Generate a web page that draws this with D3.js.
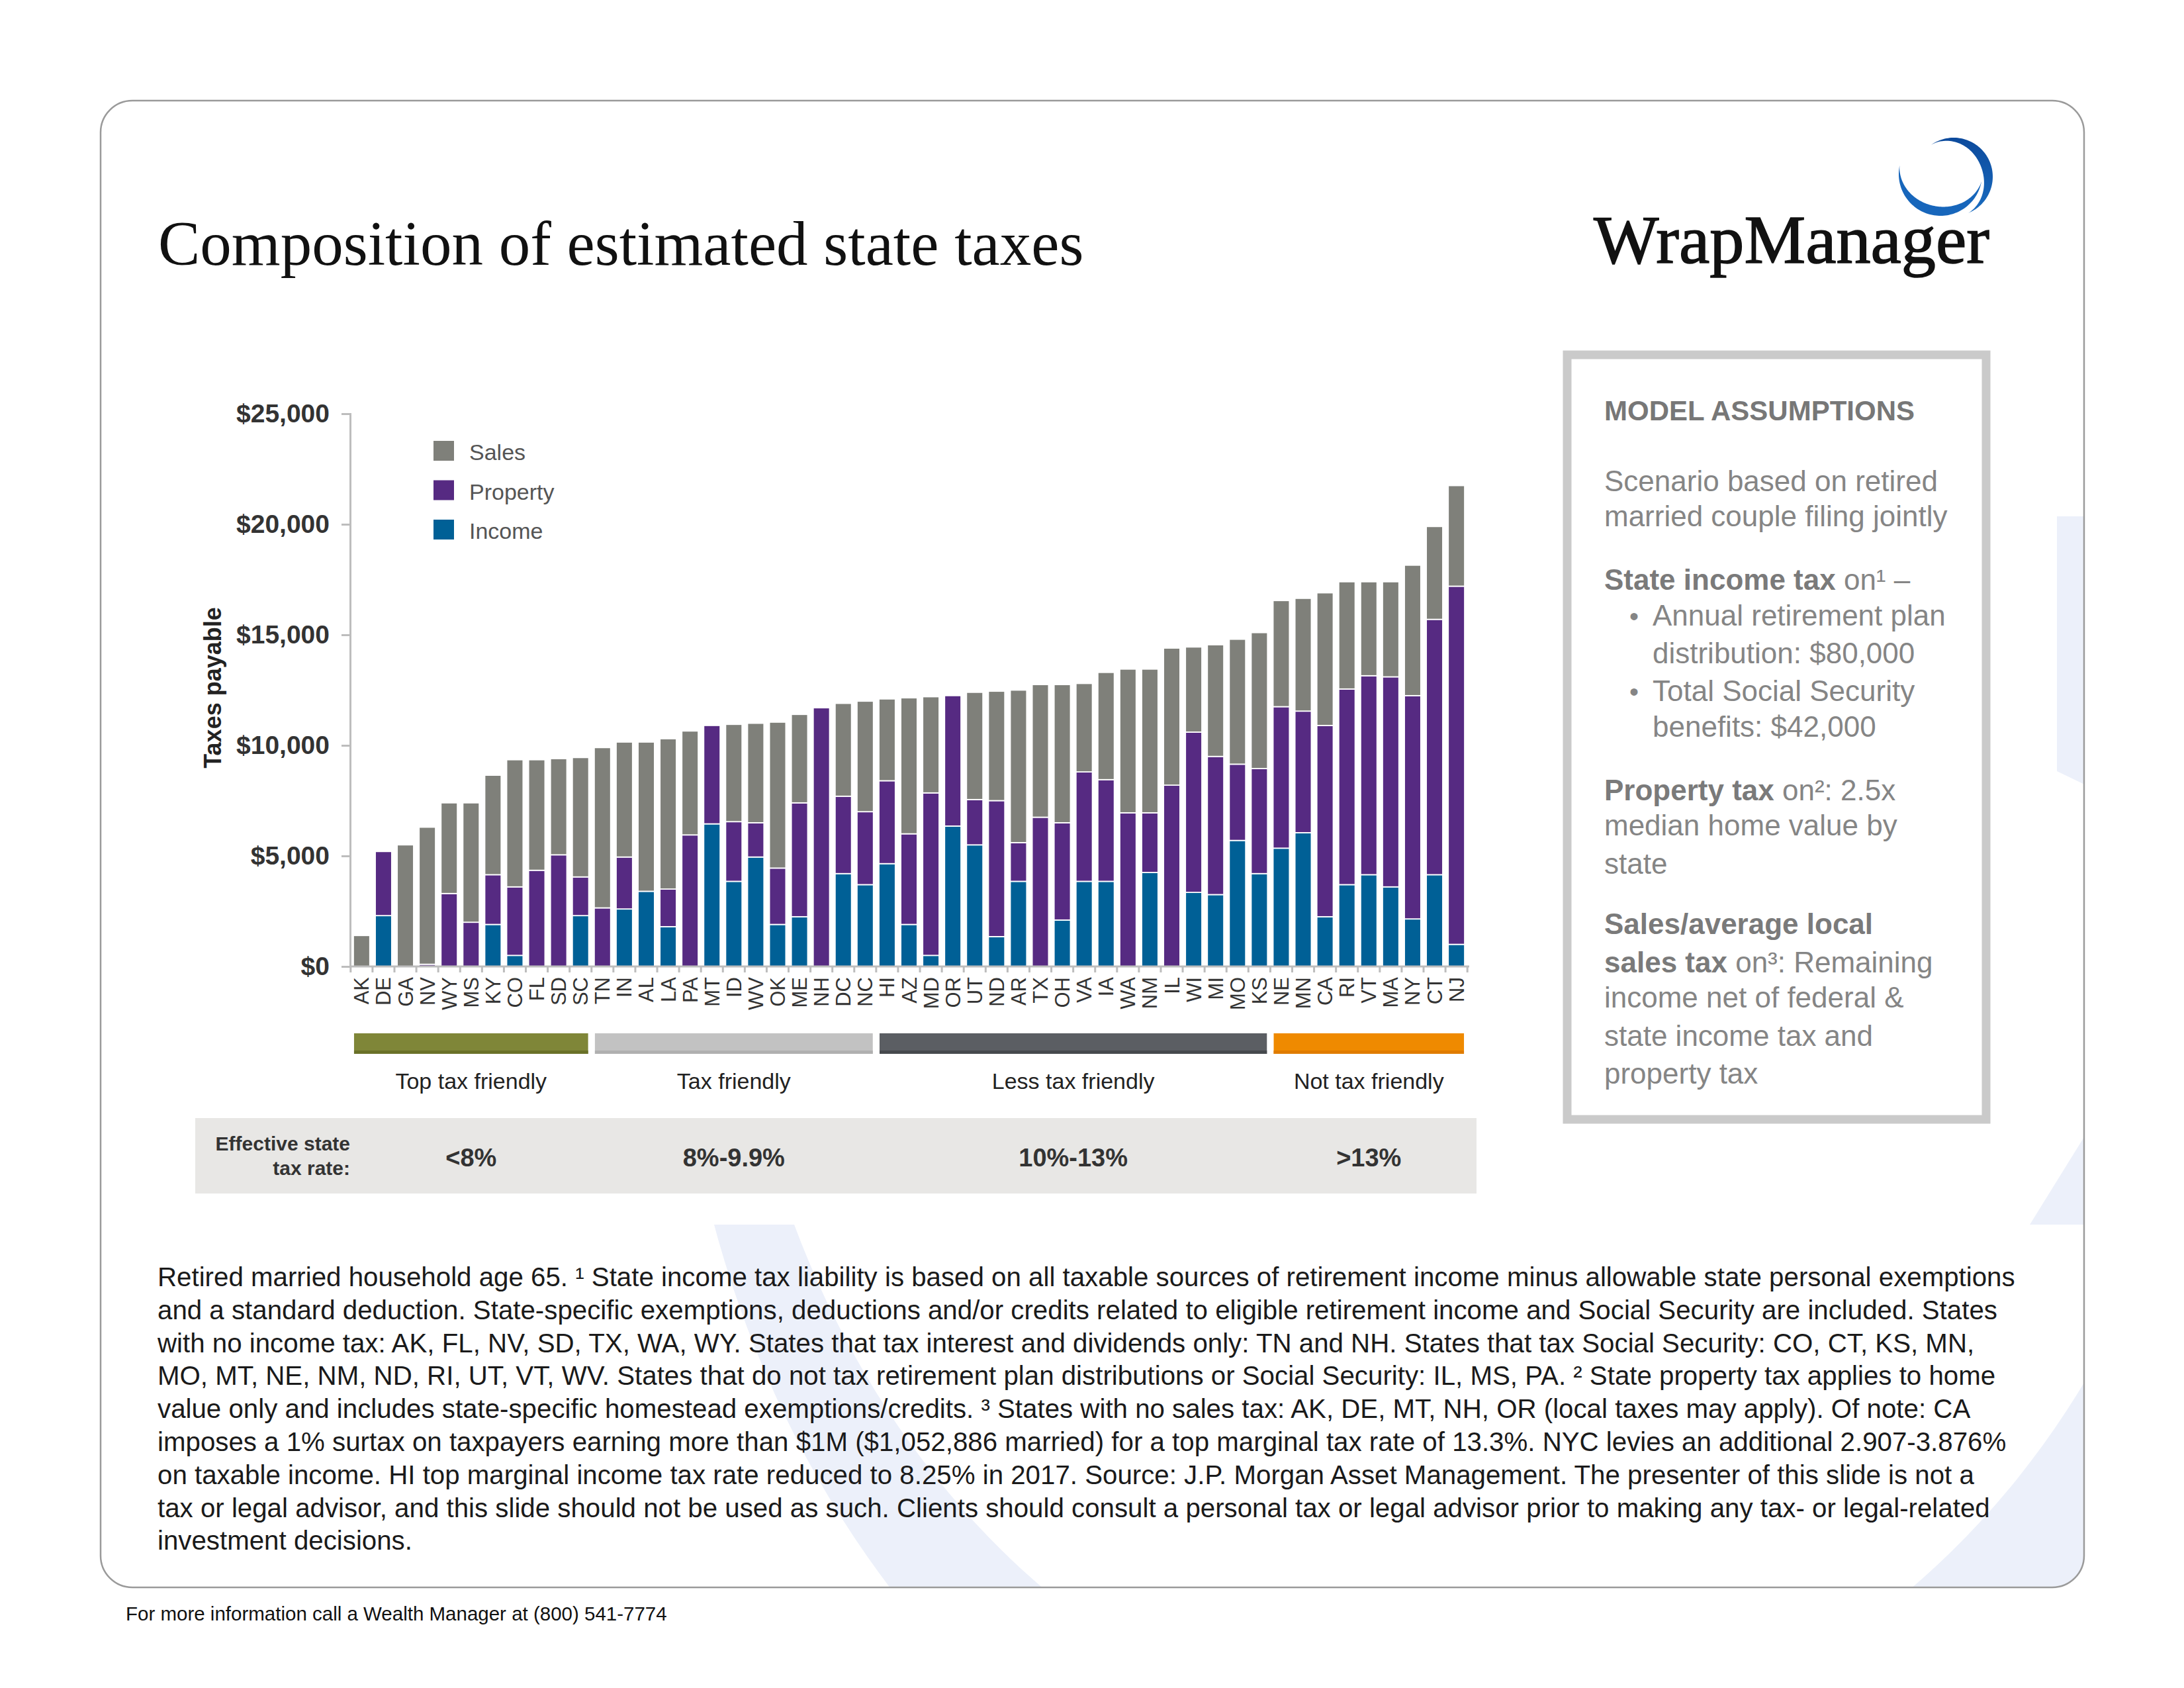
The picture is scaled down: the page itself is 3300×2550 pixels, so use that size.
<!DOCTYPE html>
<html><head><meta charset="utf-8">
<script src="https://cdn.jsdelivr.net/npm/d3@7"></script>
<style>html,body{margin:0;padding:0;background:#fff;} svg{display:block;}</style>
</head><body>
<svg id="c" width="3300" height="2550"></svg>
<script>
// ---------------- DATA ----------------
const states = ["AK","DE","GA","NV","WY","MS","KY","CO","FL","SD","SC","TN","IN","AL","LA","PA","MT","ID","WV","OK","ME","NH","DC","NC","HI","AZ","MD","OR","UT","ND","AR","TX","OH","VA","IA","WA","NM","IL","WI","MI","MO","KS","NE","MN","CA","RI","VT","MA","NY","CT","NJ"];
const income   = [0,2300,0,0,0,0,1900,500,0,0,2300,0,2600,3400,1800,0,6450,3850,4950,1900,2250,0,4200,3700,4650,1900,500,6350,5500,1350,3850,0,2100,3850,3850,0,4250,0,3350,3250,5700,4200,5350,6050,2250,3700,4150,3600,2150,4150,1000];
const property = [0,2900,0,100,3300,2000,2250,3100,4350,5050,1750,2650,2350,0,1700,5950,4450,2700,1550,2550,5150,11700,3500,3300,3750,4100,7350,5900,2050,6150,1750,6750,4400,4950,4600,6950,2700,8200,7250,6250,3450,4750,6400,5500,8650,8850,9000,9500,10100,11550,16200];
const sales    = [1400,0,5500,6200,4100,5400,4500,5750,5000,4350,5400,7250,5200,6750,6800,4700,0,4400,4500,6600,4000,0,4200,5000,3700,6150,4350,0,4850,4950,6900,6000,6250,4000,4850,6500,6500,6200,3850,5050,5650,6150,4800,5100,6000,4850,4250,4300,5900,4200,4550];
const seriesKeys   = ["income","property","sales"];
const legendLabels = ["Sales","Property","Income"];
const legendKeys   = ["sales","property","income"];
const yTicks = [0,5000,10000,15000,20000,25000];

const groupNames = ["Top tax friendly","Tax friendly","Less tax friendly","Not tax friendly"];
const groupFirst = ["AK","TN","HI","NE"];
const groupLast  = ["SC","NC","KS","NJ"];
const groupRates = ["<8%","8%-9.9%","10%-13%",">13%"];

const titleText = "Composition of estimated state taxes";
const logoText = "WrapManager";
const footerText = "For more information call a Wealth Manager at (800) 541-7774";
const footnoteLines = [
 "Retired married household age 65. \u00B9 State income tax liability is based on all taxable sources of retirement income minus allowable state personal exemptions",
 "and a standard deduction. State-specific exemptions, deductions and/or credits related to eligible retirement income and Social Security are included. States",
 "with no income tax: AK, FL, NV, SD, TX, WA, WY. States that tax interest and dividends only: TN and NH. States that tax Social Security: CO, CT, KS, MN,",
 "MO, MT, NE, NM, ND, RI, UT, VT, WV. States that do not tax retirement plan distributions or Social Security: IL, MS, PA. \u00B2 State property tax applies to home",
 "value only and includes state-specific homestead exemptions/credits. \u00B3 States with no sales tax: AK, DE, MT, NH, OR (local taxes may apply). Of note: CA",
 "imposes a 1% surtax on taxpayers earning more than $1M ($1,052,886 married) for a top marginal tax rate of 13.3%. NYC levies an additional 2.907-3.876%",
 "on taxable income. HI top marginal income tax rate reduced to 8.25% in 2017. Source: J.P. Morgan Asset Management. The presenter of this slide is not a",
 "tax or legal advisor, and this slide should not be used as such. Clients should consult a personal tax or legal advisor prior to making any tax- or legal-related",
 "investment decisions."
];
const boxTitle = "MODEL ASSUMPTIONS";
const boxLines = [
 {seg:[["Scenario based on retired",0]]},
 {seg:[["married couple filing jointly",0]]},
 {seg:[["State income tax",1],[" on\u00B9 \u2013",0]]},
 {seg:[["Annual retirement plan",0]], bullet:1},
 {seg:[["distribution: $80,000",0]], indent:1},
 {seg:[["Total Social Security",0]], bullet:1},
 {seg:[["benefits: $42,000",0]], indent:1},
 {seg:[["Property tax",1],[" on\u00B2: 2.5x",0]]},
 {seg:[["median home value by",0]]},
 {seg:[["state",0]]},
 {seg:[["Sales/average local",1]]},
 {seg:[["sales tax",1],[" on\u00B3: Remaining",0]]},
 {seg:[["income net of federal &",0]]},
 {seg:[["state income tax and",0]]},
 {seg:[["property tax",0]]}
];

// ---------------- STYLE ----------------
const SANS = "'Liberation Sans', Arial, Helvetica, sans-serif";
const SERIF = "'Liberation Serif', 'Times New Roman', serif";
const colors = {sales:"#7f807a", property:"#562a82", income:"#006096"};
const groupColors = ["#7f8638","#c2c2c2","#5b5e63","#ef8a00"];
const groupDark   = ["#6a7128","#b0b0b0","#46494d","#e07c00"];

const svg = d3.select("#c");
const defs = svg.append("defs");

// card
const card = {x:152, y:152, w:2997, h:2246, r:48};
defs.append("clipPath").attr("id","cardClip").append("rect")
  .attr("x",card.x).attr("y",card.y).attr("width",card.w).attr("height",card.h).attr("rx",card.r);

// watermark
function ell(cx,cy,rx,ry){return `M${cx-rx},${cy}a${rx},${ry} 0 1,0 ${2*rx},0a${rx},${ry} 0 1,0 ${-2*rx},0Z`;}
const wm = svg.append("g").attr("clip-path","url(#cardClip)");
wm.append("rect").attr("x",card.x).attr("y",card.y).attr("width",card.w).attr("height",card.h).attr("fill","#fff");
wm.append("path").attr("d", ell(2300,1400,1280,1500)+ell(2232,1300,1130,1350))
  .attr("fill-rule","evenodd").attr("fill","#ecf0fa");
wm.append("rect").attr("x",card.x).attr("y",card.y).attr("width",3108-card.x).attr("height",1850-card.y).attr("fill","#fff");
wm.append("rect").attr("x",3108).attr("y",card.y).attr("width",60).attr("height",1850-card.y).attr("fill","#fff");
wm.append("path").attr("d","M3108,780L3160,780L3160,1190L3108,1165Z").attr("fill","#ecf0fa");
wm.append("path").attr("d","M3160,1700L3160,1850L3067,1850Z").attr("fill","#ecf0fa");

svg.append("rect").attr("x",card.x).attr("y",card.y).attr("width",card.w).attr("height",card.h).attr("rx",card.r)
  .attr("fill","none").attr("stroke","#9a9a9a").attr("stroke-width",2.5);

// title
svg.append("text").attr("x",239).attr("y",400).attr("font-family",SERIF).attr("font-size",95)
  .attr("fill","#111").text(titleText);

// logo
svg.append("text").attr("x",2408).attr("y",397).attr("font-family",SERIF).attr("font-size",104)
  .attr("fill","#111").attr("stroke","#111").attr("stroke-width",1.5).attr("textLength",598).attr("lengthAdjust","spacingAndGlyphs").text(logoText);
function crescent(cx,cy,r,a0,a1,t,skew){
  const n=80, outer=[], inner=[];
  for(let i=0;i<=n;i++){
    const u=i/n, a=(a0+(a1-a0)*u)*Math.PI/180;
    const th=t*Math.pow(Math.sin(Math.PI*Math.pow(u,skew)),1.2);
    outer.push([cx+r*Math.cos(a), cy+r*Math.sin(a)]);
    inner.push([cx+(r-th)*Math.cos(a), cy+(r-th)*Math.sin(a)]);
  }
  return d3.line()(outer.concat(inner.reverse()))+"Z";
}
const lg = defs.append("linearGradient").attr("id","logoGrad").attr("x1","0").attr("y1","0").attr("x2","0").attr("y2","1");
lg.append("stop").attr("offset","0").attr("stop-color","#0c4a9c");
lg.append("stop").attr("offset","1").attr("stop-color","#1a6cc0");
svg.append("path").attr("d",crescent(2952,267,59,-125,68,15,1.1)).attr("fill","url(#logoGrad)");
svg.append("path").attr("d",crescent(2932,263,63,10,192,14,1.0)).attr("fill","#1766bb");

// ---------------- CHART ----------------
const x = d3.scaleBand().domain(states).range([529,2218]).paddingInner(0.25).paddingOuter(0.15);
const y = d3.scaleLinear().domain([0,25000]).range([1460,625]);
const rows = states.map((s,i)=>({state:s, income:income[i], property:property[i], sales:sales[i]}));
const stacked = d3.stack().keys(seriesKeys)(rows);

const gBars = svg.append("g");
stacked.forEach(layer=>{
  gBars.selectAll(null).data(layer.filter(d=>d[1]-d[0]>0)).enter().append("rect")
    .attr("x",d=>x(d.data.state)).attr("width",x.bandwidth())
    .attr("y",d=>y(d[1])).attr("height",d=>y(d[0])-y(d[1]))
    .attr("fill",colors[layer.key]).attr("stroke","#fff").attr("stroke-width",1.8);
});

// y axis
const yAxis = d3.axisLeft(y).tickValues(yTicks).tickSize(13).tickPadding(18)
  .tickFormat(d=>"$"+d3.format(",")(d));
const gy = svg.append("g").attr("transform","translate(529,0)").call(yAxis);
gy.select(".domain").attr("stroke","#bdbdbd").attr("stroke-width",3);
gy.selectAll(".tick line").attr("stroke","#bdbdbd").attr("stroke-width",3);
gy.selectAll(".tick text").attr("font-family",SANS).attr("font-size",39).attr("font-weight","bold").attr("fill","#333");

// x axis
const gx = svg.append("g").attr("transform","translate(0,1460)");
gx.append("line").attr("x1",529).attr("x2",2220).attr("stroke","#bdbdbd").attr("stroke-width",3);
const edge = (d,i)=> i<states.length ? x(d)-x.step()*x.paddingInner()/2 : x(states[states.length-1])+x.bandwidth()+x.step()*x.paddingInner()/2;
gx.selectAll(".xt").data(states.concat(["_end"])).enter().append("line")
  .attr("x1",edge).attr("x2",edge)
  .attr("y1",0).attr("y2",9).attr("stroke","#bdbdbd").attr("stroke-width",3);
gx.selectAll(".xl").data(states).enter().append("text")
  .attr("transform",d=>`translate(${x(d)+x.bandwidth()/2+11},16) rotate(-90)`)
  .attr("text-anchor","end").attr("font-family",SANS).attr("font-size",31).attr("fill","#333").text(d=>d);

// y title
svg.append("text").attr("transform","translate(334,1039) rotate(-90)").attr("text-anchor","middle")
  .attr("font-family",SANS).attr("font-size",36).attr("font-weight","bold").attr("fill","#222").text("Taxes payable");

// legend
const leg = svg.append("g");
legendKeys.forEach((k,i)=>{
  leg.append("rect").attr("x",655).attr("y",666+i*59.5).attr("width",31).attr("height",30).attr("fill",colors[k]);
  leg.append("text").attr("x",709).attr("y",695+i*59.5).attr("font-family",SANS).attr("font-size",34).attr("fill","#555").text(legendLabels[i]);
});

// groups
const gG = svg.append("g");
groupNames.forEach((g,i)=>{
  const x0 = x(groupFirst[i])+1, x1 = x(groupLast[i])+x.bandwidth()-1, cx=(x0+x1)/2;
  gG.append("rect").attr("x",x0).attr("y",1561).attr("width",x1-x0).attr("height",31).attr("fill",groupColors[i]);
  gG.append("rect").attr("x",x0).attr("y",1587).attr("width",x1-x0).attr("height",5).attr("fill",groupDark[i]);
  gG.append("text").attr("x",cx).attr("y",1645).attr("text-anchor","middle").attr("font-family",SANS).attr("font-size",34).attr("fill","#222").text(g);
});
// rate box
svg.append("rect").attr("x",295).attr("y",1689).attr("width",1936).attr("height",114).attr("fill","#e8e7e5");
svg.append("text").attr("x",529).attr("y",1738).attr("text-anchor","end").attr("font-family",SANS).attr("font-size",30).attr("font-weight","bold").attr("fill","#333").text("Effective state");
svg.append("text").attr("x",529).attr("y",1775).attr("text-anchor","end").attr("font-family",SANS).attr("font-size",30).attr("font-weight","bold").attr("fill","#333").text("tax rate:");
groupRates.forEach((r,i)=>{
  const x0 = x(groupFirst[i]), x1 = x(groupLast[i])+x.bandwidth();
  svg.append("text").attr("x",(x0+x1)/2).attr("y",1762).attr("text-anchor","middle").attr("font-family",SANS).attr("font-size",38).attr("font-weight","bold").attr("fill","#333").text(r);
});

// model assumptions box
svg.append("rect").attr("x",2368).attr("y",536).attr("width",633).attr("height",1155)
  .attr("fill","#fff").attr("stroke","#cacaca").attr("stroke-width",13);
svg.append("text").attr("x",2424).attr("y",635).attr("font-family",SANS).attr("font-size",42).attr("font-weight","bold").attr("fill","#777").text(boxTitle);
const boxBase = [742,795,891,945,1002,1059,1113,1209,1262,1320,1411,1469,1522,1580,1637];
boxLines.forEach((ln,i)=>{
  const tx = svg.append("text").attr("x", ln.bullet||ln.indent ? 2497 : 2424).attr("y",boxBase[i])
    .attr("font-family",SANS).attr("font-size",44).attr("fill","#808080");
  ln.seg.forEach(s=>tx.append("tspan").attr("font-weight",s[1]?"bold":"normal").attr("fill",s[1]?"#7a7a7a":"#858585").text(s[0]));
  if(ln.bullet) svg.append("text").attr("x",2462).attr("y",boxBase[i]).attr("font-family",SANS).attr("font-size",40).attr("fill","#858585").text("\u2022");
});

// footnote
const fn = svg.append("g");
const probe = fn.append("text").attr("font-family",SANS).attr("font-size",40).text(footnoteLines[0]);
const fs = 40*2807/probe.node().getComputedTextLength();
probe.remove();
footnoteLines.forEach((l,i)=>{
  fn.append("text").attr("x",238).attr("y",1943+i*49.8).attr("font-family",SANS).attr("font-size",fs).attr("fill","#1a1a1a").text(l);
});
svg.append("text").attr("x",190).attr("y",2448).attr("font-family",SANS).attr("font-size",29.5).attr("fill","#111").text(footerText);
</script>
</body></html>
